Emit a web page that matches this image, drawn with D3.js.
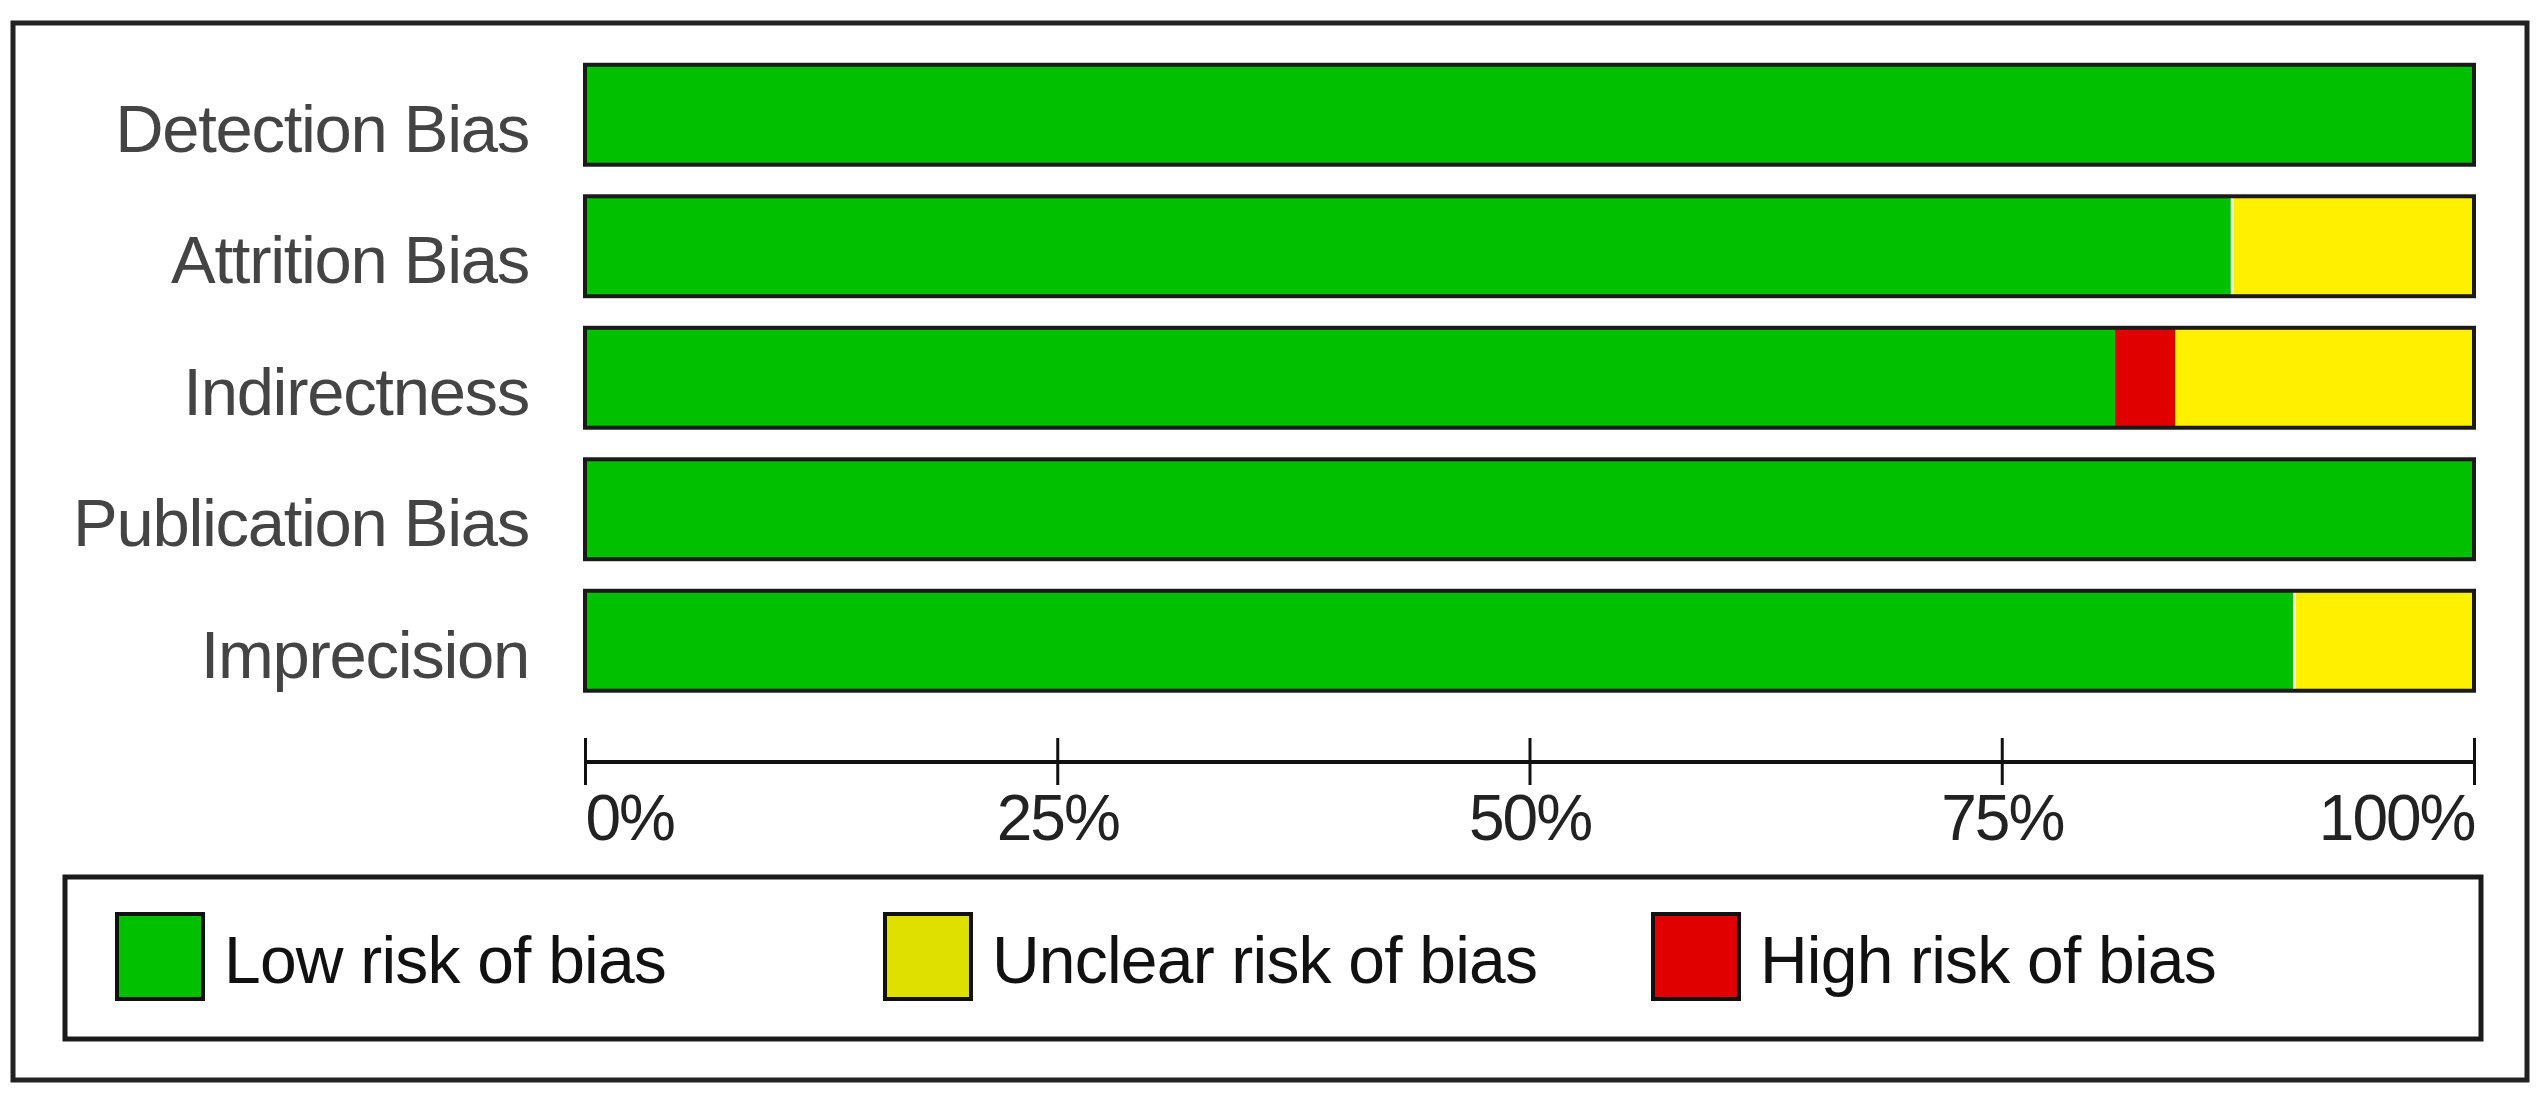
<!DOCTYPE html>
<html lang="en">
<head>
  <meta charset="UTF-8" />
  <title>Risk of bias</title>
  <style>
    body {
      margin: 0;
      background: white;
      font-family: 'Liberation Sans', Arial, sans-serif;
    }
    .domain-label { fill: #444; font-size: 67px; letter-spacing: -1.3px; }
    .tick-label { fill: #222; font-size: 64px; letter-spacing: -2px; }
    .legend-label { fill: #111; font-size: 66px; letter-spacing: -0.8px; }
  </style>
</head>
<body>
  <svg width="2546" height="1102"></svg>

  <script src="https://d3js.org/d3.v7.min.js"></script>
  <script>
    const domains = ["Detection Bias", "Attrition Bias", "Indirectness", "Publication Bias", "Imprecision"];
    const lowRisk = [100, 87.2, 81.0, 100, 90.5];
    const highRisk = [0, 0, 3.2, 0, 0];
    const unclearRisk = [0, 12.8, 15.8, 0, 9.5];
    const ticks = [0, 25, 50, 75, 100];
    const legendLabels = ["Low risk of bias", "Unclear risk of bias", "High risk of bias"];

    const barColors = { low: "#00c000", high: "#e00000", unclear: "#fff000" };
    const legendColors = ["#00c000", "#e0e000", "#e00000"];

    const svg = d3.select("svg");

    // outer frame
    svg.append("rect")
      .attr("x", 13).attr("y", 23)
      .attr("width", 2514).attr("height", 1057)
      .attr("fill", "white")
      .attr("stroke", "#222")
      .attr("stroke-width", 5);

    const x = d3.scaleLinear().domain([0, 100]).range([585, 2474]);
    const y = d3.scaleBand()
      .domain(domains)
      .range([49, 49 + 5 * 131.5])
      .paddingInner(0.24)
      .paddingOuter(0.12);

    const rows = domains.map((d, i) => ({
      domain: d, low: lowRisk[i], high: highRisk[i], unclear: unclearRisk[i]
    }));
    const stack = d3.stack().keys(["low", "high", "unclear"])(rows);

    svg.append("g")
      .selectAll("g")
      .data(stack)
      .join("g")
        .attr("fill", s => barColors[s.key])
      .selectAll("rect")
      .data(s => s.filter(d => d[1] > d[0]))
      .join("rect")
        .attr("x", d => x(d[0]))
        .attr("y", d => y(d.data.domain))
        .attr("width", d => x(d[1]) - x(d[0]))
        .attr("height", y.bandwidth());

    // thin light line where green meets yellow
    svg.append("g")
      .selectAll("line")
      .data(rows.filter(r => r.unclear > 0 && r.high === 0))
      .join("line")
        .attr("x1", r => x(r.low)).attr("x2", r => x(r.low))
        .attr("y1", r => y(r.domain)).attr("y2", r => y(r.domain) + y.bandwidth())
        .attr("stroke", "#e8ffe8")
        .attr("stroke-width", 3);

    // bar outlines
    svg.append("g")
      .selectAll("rect")
      .data(domains)
      .join("rect")
        .attr("x", x(0))
        .attr("y", d => y(d))
        .attr("width", x(100) - x(0))
        .attr("height", y.bandwidth())
        .attr("fill", "none")
        .attr("stroke", "#1a1a1a")
        .attr("stroke-width", 4);

    svg.append("g")
      .selectAll("text")
      .data(domains)
      .join("text")
        .attr("class", "domain-label")
        .attr("x", 529)
        .attr("y", d => y(d) + y.bandwidth() / 2)
        .attr("dy", "0.55em")
        .attr("text-anchor", "end")
        .text(d => d);

    // axis
    const axisY = 762;
    const axis = svg.append("g")
      .attr("transform", `translate(0,${axisY})`)
      .call(d3.axisBottom(x).tickValues(ticks).tickSize(0).tickFormat(""));
    axis.select(".domain").remove();
    axis.append("line")
      .attr("x1", x(0)).attr("x2", x(100))
      .attr("stroke", "#111").attr("stroke-width", 4);
    axis.selectAll(".tick line")
      .attr("y1", -24).attr("y2", 23)
      .attr("stroke", "#111").attr("stroke-width", 3);
    axis.selectAll(".tick").append("text")
      .attr("class", "tick-label")
      .attr("y", 78)
      .attr("text-anchor", d => d === 0 ? "start" : d === 100 ? "end" : "middle")
      .text(d => d + "%");

    // legend
    const legend = svg.append("g");
    legend.append("rect")
      .attr("x", 65).attr("y", 877)
      .attr("width", 2416).attr("height", 162)
      .attr("fill", "white")
      .attr("stroke", "#1a1a1a")
      .attr("stroke-width", 5);

    const legendX = d3.scalePoint().domain(legendLabels).range([117, 1653]);
    const item = legend.selectAll("g.item")
      .data(legendLabels)
      .join("g")
        .attr("class", "item")
        .attr("transform", d => `translate(${legendX(d)},914)`);
    item.append("rect")
      .attr("width", 86).attr("height", 85)
      .attr("fill", (d, i) => legendColors[i])
      .attr("stroke", "#111")
      .attr("stroke-width", 4);
    item.append("text")
      .attr("class", "legend-label")
      .attr("x", 107)
      .attr("y", 69)
      .text(d => d);
  </script>
</body>
</html>
